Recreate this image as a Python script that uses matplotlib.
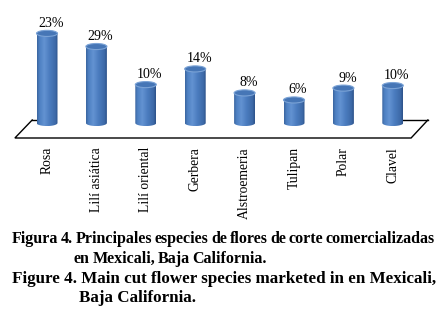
import numpy as np
import matplotlib
matplotlib.use("Agg")
import matplotlib.pyplot as plt
from matplotlib.path import Path
from matplotlib.patches import PathPatch, Ellipse
from matplotlib.colors import LinearSegmentedColormap

# ---- data (bar heights; labels as printed) ----
categories = ["Rosa", "Lilí asiática", "Lilí oriental", "Gerbera",
              "Alstroemeria", "Tulipan", "Polar", "Clavel"]
bar_heights = [28.0, 23.9, 12.0, 16.9, 9.4, 7.2, 10.9, 11.7]
value_labels = ["23%", "29%", "10%", "14%", "8%", "6%", "9%", "10%"]

caption_es_1 = "Figura 4. Principales especies de flores de corte comercializadas"
caption_es_2 = "en Mexicali, Baja California."
caption_en_1 = "Figure 4. Main cut flower species marketed in en Mexicali,"
caption_en_2 = "Baja California."

SERIF = "Liberation Serif"
W, H = 442, 310
fig = plt.figure(figsize=(W / 100, H / 100), dpi=100)
fig.patch.set_facecolor("white")

# axes geometry (pixel based)
px_per_cat = 49.4
x0_px = 47
xlim = (-0.65, 7.65)
px_per_unit = 3.2
base_px = 123
top_px, bot_px = 15, 138
ylim = (-(bot_px - base_px) / px_per_unit, (base_px - top_px) / px_per_unit)
left = (x0_px + xlim[0] * px_per_cat) / W
right = (x0_px + xlim[1] * px_per_cat) / W
ax = fig.add_axes([left, 1 - bot_px / H, right - left, (bot_px - top_px) / H])
ax.set_xlim(*xlim)
ax.set_ylim(*ylim)
for s in ax.spines.values():
    s.set_visible(False)
ax.set_yticks([])
ax.set_xticks(range(len(categories)))
ax.set_xticklabels(categories, rotation=90, fontsize=9.8, family=SERIF, va="top")
ax.tick_params(axis="x", length=0, pad=6.5)
ax.set_facecolor("none")

bw = 0.425
ry = 0.95

# floor outline
back_y = 0.94
front_y = ylim[0]
ax.plot([-0.30, -0.65, 7.37, 7.71], [back_y, front_y, front_y, back_y],
        color="black", lw=1.0, clip_on=False, zorder=1, solid_joinstyle="miter")
ax.plot([-0.30, -bw / 2], [back_y, back_y], color="black", lw=1.0, clip_on=False, zorder=1)
ax.plot([7 + bw / 2, 7.71], [back_y, back_y], color="black", lw=1.0, clip_on=False, zorder=1)

cmap = LinearSegmentedColormap.from_list(
    "cyl", [(0.0, "#3a649e"), (0.12, "#4d80c2"), (0.35, "#6393d2"),
            (0.6, "#4b7cbf"), (0.88, "#3d6aa8"), (1.0, "#2c5088")])
grad = np.linspace(0, 1, 256)[None, :]

for i, h in enumerate(bar_heights):
    xa, xb = i - bw / 2, i + bw / 2
    t = np.linspace(np.pi, 2 * np.pi, 40)
    arc = np.column_stack([i + bw / 2 * np.cos(t), ry * np.sin(t)])
    verts = np.vstack([[xa, h], arc, [xb, h], [xa, h]])
    codes = [Path.MOVETO] + [Path.LINETO] * (len(verts) - 2) + [Path.CLOSEPOLY]
    body = PathPatch(Path(verts, codes), facecolor="none", edgecolor="none")
    ax.add_patch(body)
    im = ax.imshow(grad, cmap=cmap, extent=(xa, xb, -ry, h), aspect="auto",
                   zorder=3, interpolation="bilinear")
    im.set_clip_path(body)
    cap = Ellipse((i, h), bw, 2 * ry, facecolor="#4676b6", edgecolor="#7ba3d6",
                  lw=0.8, zorder=4)
    ax.add_patch(cap)
    ax.text(i + 0.08, h + ry + 0.15, value_labels[i], ha="center", va="bottom",
            fontsize=10, family=SERIF, zorder=5)

ax.set_xlim(*xlim)
ax.set_ylim(*ylim)

# caption
renderer = fig.canvas.get_renderer()

def fit_text(x_px, base_px_y, s, target_w=None, size=11):
    t = fig.text(x_px / W, 1 - base_px_y / H, s, ha="left", va="baseline",
                 fontsize=size, family=SERIF, fontweight="bold")
    if target_w:
        w = t.get_window_extent(renderer).width
        t.set_fontsize(size * target_w / w)
    return t

def word_objs(base_px_y, s, size):
    return [fig.text(0, 1 - base_px_y / H, wd, ha="left", va="baseline",
                     fontsize=size, family=SERIF, fontweight="bold")
            for wd in s.split(" ")]

def place_words(objs, x_px, gap):
    x = x_px
    for o in objs:
        o.set_x(x / W)
        x += o.get_window_extent(renderer).width + gap

t3 = fit_text(12, 283, caption_en_1, target_w=423)
t4 = fit_text(79, 302, caption_en_2, size=t3.get_fontsize())

gap = 2.6
base_size = 12
es1 = word_objs(243, caption_es_1, base_size)
tot = sum(o.get_window_extent(renderer).width for o in es1)
size_es = base_size * (421 - gap * (len(es1) - 1)) / tot
for o in es1:
    o.set_fontsize(size_es)
place_words(es1, 12, gap)
es2 = word_objs(263, caption_es_2, size_es)
place_words(es2, 74, gap)

fig.savefig("out.png", dpi=100)
